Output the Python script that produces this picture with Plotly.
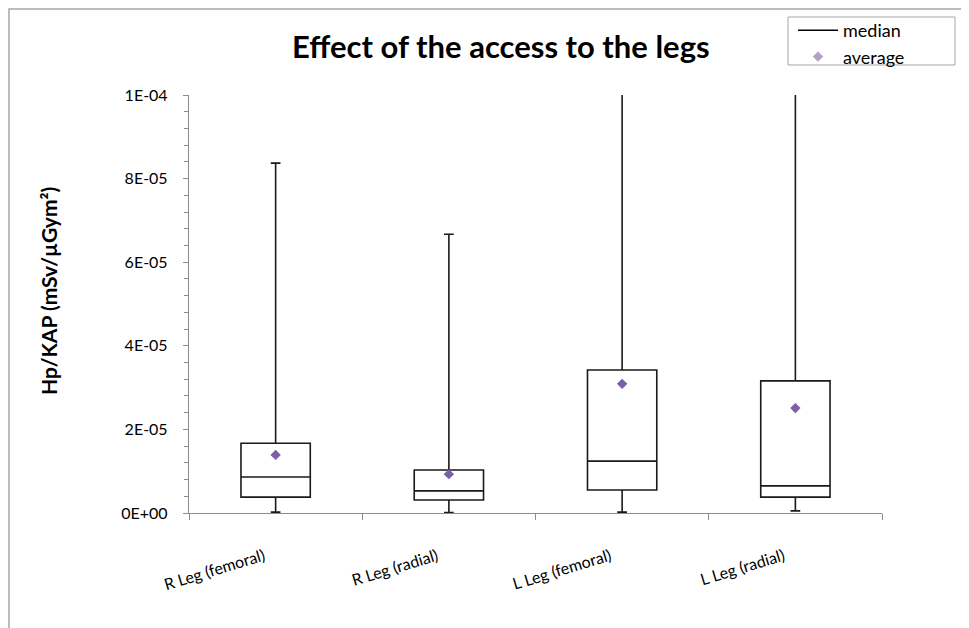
import plotly.graph_objects as go

categories = ["R Leg (femoral)", "R Leg (radial)", "L Leg (femoral)", "L Leg (radial)"]
minimum = [2e-7, 1e-7, 2e-7, 5e-7]
q1 = [3.8e-6, 3.1e-6, 5.5e-6, 3.8e-6]
median = [8.6e-6, 5.3e-6, 1.24e-5, 6.5e-6]
q3 = [1.67e-5, 1.03e-5, 3.42e-5, 3.16e-5]
maximum = [8.37e-5, 6.67e-5, 1.6e-4, 1.6e-4]
average = [1.39e-5, 9.3e-6, 3.09e-5, 2.51e-5]

y_tickvals = [0, 2e-5, 4e-5, 6e-5, 8e-5, 1e-4]
y_ticktext = ["0E+00", "2E-05", "4E-05", "6E-05", "8E-05", "1E-04"]

FONT = "Lato, 'Open Sans', sans-serif"

fig = go.Figure()
fig.add_trace(go.Box(
    x=categories, q1=q1, median=median, q3=q3,
    lowerfence=minimum, upperfence=maximum,
    width=0.4, whiskerwidth=0.14,
    fillcolor="white", line=dict(color="#1a1a1a", width=1.6),
    showlegend=False, hoverinfo="skip", boxpoints=False,
))
fig.add_trace(go.Scatter(
    x=categories, y=average, mode="markers",
    marker=dict(symbol="diamond", size=8, color="#7b5fa8"),
    showlegend=False,
))
# legend entries
fig.add_trace(go.Scatter(x=[None], y=[None], mode="lines", name="median",
                         line=dict(color="black", width=1.5)))
fig.add_trace(go.Scatter(x=[None], y=[None], mode="markers", name="average",
                         marker=dict(symbol="diamond", size=8, color="#b3a2c7")))

fig.update_layout(
    width=961, height=620,
    margin=dict(l=181, r=87, t=87, b=115, autoexpand=False),
    paper_bgcolor="white", plot_bgcolor="white",
    font=dict(family=FONT, size=15, color="black"),
    title=dict(text="<b>Effect of the access to the legs</b>",
               font=dict(family=FONT, size=31, color="black"),
               x=0.450, xref="paper", xanchor="center",
               y=1 - 39 / 620, yref="container", yanchor="middle"),
    legend=dict(x=(793 - 189) / 693, y=(513 - 12) / 418, xanchor="left", yanchor="top",
                borderwidth=0, bgcolor="rgba(0,0,0,0)",
                font=dict(family=FONT, size=18),
                itemwidth=40, tracegroupgap=0),
    xaxis=dict(type="category", showline=True, linecolor="#8c8c8c", linewidth=1.3,
               ticks="outside", ticklen=6, tickcolor="#8c8c8c", tickson="boundaries",
               tickangle=-17, showgrid=False, zeroline=False,
               ticklabelstandoff=27, ticklabelshift=-12,
               tickfont=dict(family=FONT, size=16),
               range=[-0.5, 3.5], fixedrange=True),
    yaxis=dict(range=[0, 1e-4], tickvals=y_tickvals, ticktext=y_ticktext,
               showline=True, linecolor="#8c8c8c", linewidth=1.3,
               ticks="outside", ticklen=5, tickcolor="#8c8c8c",
               minor=dict(dtick=4e-6, ticks="outside", ticklen=4, tickcolor="#8c8c8c", showgrid=False),
               showgrid=False, zeroline=False, ticklabelstandoff=12,
               tickfont=dict(family=FONT, size=16)),
    annotations=[dict(text="<b>Hp/KAP (mSv/µGym²)</b>", textangle=-90,
                      x=(48 - 189) / 693, y=(513 - 291) / 418, xref="paper", yref="paper",
                      xanchor="center", yanchor="middle", showarrow=False,
                      font=dict(family=FONT, size=21, color="black"))],
    shapes=[dict(type="rect", xref="paper", yref="paper",
                 x0=(9 - 189) / 693, x1=2.0, y0=-1.0, y1=(513 - 9) / 418,
                 line=dict(color="#a6a6a6", width=1.5), layer="below"),
            dict(type="rect", xref="paper", yref="paper",
                 x0=(788 - 189) / 693, x1=(955 - 189) / 693,
                 y0=(513 - 65) / 418, y1=(513 - 17) / 418,
                 line=dict(color="#a6a6a6", width=1), fillcolor="white", layer="below")],
)

fig.write_html("out.html")
